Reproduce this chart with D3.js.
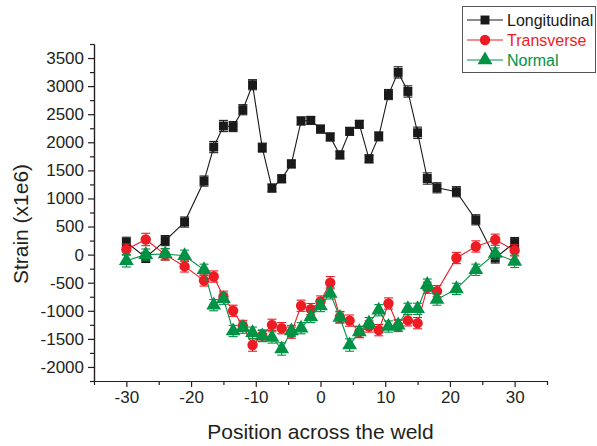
<!DOCTYPE html>
<html>
<head>
<meta charset="utf-8">
<script src="https://cdn.jsdelivr.net/npm/d3@7"></script>
<style>
  body { margin: 0; background: #fff; }
  svg { font-family: "Liberation Sans", Arial, sans-serif; }
  .axis path, .axis line { stroke: #231f20; stroke-width: 1.2; }
  .axis text { fill: #231f20; font-size: 17px; }
</style>
</head>
<body>
<svg id="chart"></svg>
<script>
// position across the weld
const positions = [-30, -27, -24, -21, -18, -16.5, -15, -13.5, -12, -10.5, -9, -7.5, -6, -4.5, -3, -1.5,
  0, 1.5, 3, 4.5, 6, 7.5, 9, 10.5, 12, 13.5, 15, 16.5, 18, 21, 24, 27, 30];

const longitudinal = [220, -50, 250, 580, 1310, 1915, 2290, 2280, 2580, 3025, 1905, 1185, 1350, 1615, 2380, 2390,
  2235, 2095, 1775, 2195, 2320, 1705, 2105, 2850, 3245, 2905, 2170, 1355, 1190, 1120, 620, -60, 215];
const transverse = [90, 270, 0, -210, -460, -390, -750, -1000, -1270, -1610, -1440, -1250, -1310, -1390, -910, -970,
  -835, -500, -1110, -1175, -1380, -1280, -1345, -870, -1270, -1170, -1220, -590, -650, -60, 145, 265, 75];
const normal = [-110, 0, 10, -20, -270, -900, -785, -1360, -1300, -1390, -1450, -1475, -1680, -1360, -1310, -1110,
  -915, -690, -1120, -1610, -1375, -1220, -990, -1280, -1255, -965, -965, -535, -800, -610, -270, 20, -120];

const errLong = [90, 90, 90, 90, 90, 100, 100, 90, 90, 90, 80, 70, 70, 70, 70, 70,
  70, 70, 70, 70, 70, 70, 80, 90, 100, 100, 100, 100, 90, 90, 90, 90, 90];
const errTrans = [100, 110, 100, 100, 100, 100, 100, 100, 100, 110, 100, 100, 100, 100, 100, 100,
  100, 110, 100, 100, 100, 100, 100, 100, 100, 100, 100, 100, 100, 100, 100, 100, 100];
const errNorm = [110, 100, 100, 100, 100, 100, 100, 100, 100, 100, 100, 100, 110, 100, 100, 100,
  100, 100, 100, 110, 100, 100, 100, 100, 100, 100, 100, 100, 100, 100, 100, 100, 110];

const seriesNames = ['Longitudinal', 'Transverse', 'Normal'];
const xTicks = [-30, -20, -10, 0, 10, 20, 30];
const yTicks = [-2000, -1500, -1000, -500, 0, 500, 1000, 1500, 2000, 2500, 3000, 3500];

const W = 597, H = 446;
const margin = { top: 44, right: 50, bottom: 65, left: 94 };

const svg = d3.select('#chart').attr('width', W).attr('height', H);

const x = d3.scaleLinear().domain([-35, 35]).range([margin.left, W - margin.right]);
const y = d3.scaleLinear().domain([-2250, 3750]).range([H - margin.bottom, margin.top]);

// plain hyphen for negatives, like the original
const fmt = d => String(d);

// axes: major + minor ticks
const xMinor = d3.range(-35, 36, 5).filter(v => !xTicks.includes(v));
const yMinor = d3.range(-2250, 3751, 250).filter(v => !yTicks.includes(v));

svg.append('g')
  .attr('class', 'axis')
  .attr('transform', 'translate(0,' + (H - margin.bottom) + ')')
  .call(d3.axisBottom(x).tickValues(xMinor).tickSize(4).tickSizeOuter(0).tickFormat(''));
svg.append('g')
  .attr('class', 'axis')
  .attr('transform', 'translate(0,' + (H - margin.bottom) + ')')
  .call(d3.axisBottom(x).tickValues(xTicks).tickSize(6).tickSizeOuter(0).tickPadding(4).tickFormat(fmt));

svg.append('g')
  .attr('class', 'axis')
  .attr('transform', 'translate(' + margin.left + ',0)')
  .call(d3.axisLeft(y).tickValues(yMinor).tickSize(4).tickSizeOuter(0).tickFormat(''));
svg.append('g')
  .attr('class', 'axis')
  .attr('transform', 'translate(' + margin.left + ',0)')
  .call(d3.axisLeft(y).tickValues(yTicks).tickSize(6).tickSizeOuter(0).tickPadding(4).tickFormat(fmt));

// axis titles
svg.append('text')
  .attr('x', (x(-35) + x(35)) / 2).attr('y', 439)
  .attr('text-anchor', 'middle')
  .attr('font-size', 21).attr('fill', '#231f20')
  .text('Position across the weld');

svg.append('text')
  .attr('transform', 'translate(28,' + 224 + ') rotate(-90)')
  .attr('text-anchor', 'middle')
  .attr('font-size', 21).attr('fill', '#231f20')
  .text('Strain (x1e6)');

// series
const colors = ['#1a1a1a', '#ed1c24', '#009245'];
const values = [longitudinal, transverse, normal];
const errors = [errLong, errTrans, errNorm];

const line = d3.line().x(d => x(d.x)).y(d => y(d.y));

const symbols = [d3.symbolSquare, d3.symbolCircle, d3.symbolTriangle];
const symSizes = [80, 85, 95];

// draw back to front: longitudinal, transverse, normal
values.forEach((vals, s) => {
  const pts = positions.map((p, i) => ({ x: p, y: vals[i], e: errors[s][i] }));
  const g = svg.append('g').attr('class', 'series');

  g.append('path')
    .datum(pts)
    .attr('fill', 'none')
    .attr('stroke', colors[s])
    .attr('stroke-width', 1.1)
    .attr('d', line);

  const eb = g.selectAll('.err').data(pts).enter().append('g').attr('class', 'err')
    .attr('stroke', colors[s]).attr('stroke-width', 1.1);
  eb.append('line')
    .attr('x1', d => x(d.x)).attr('x2', d => x(d.x))
    .attr('y1', d => y(d.y - d.e)).attr('y2', d => y(d.y + d.e));
  eb.append('line')
    .attr('x1', d => x(d.x) - 4.5).attr('x2', d => x(d.x) + 4.5)
    .attr('y1', d => y(d.y + d.e)).attr('y2', d => y(d.y + d.e));
  eb.append('line')
    .attr('x1', d => x(d.x) - 4.5).attr('x2', d => x(d.x) + 4.5)
    .attr('y1', d => y(d.y - d.e)).attr('y2', d => y(d.y - d.e));

  g.selectAll('.pt').data(pts).enter().append('path')
    .attr('class', 'pt')
    .attr('transform', d => 'translate(' + x(d.x) + ',' + y(d.y) + ')')
    .attr('d', d3.symbol().type(symbols[s]).size(symSizes[s]))
    .attr('fill', colors[s]);
});

// legend
const legend = svg.append('g');
legend.append('rect')
  .attr('x', 462.5).attr('y', 6.5).attr('width', 133).attr('height', 66)
  .attr('fill', '#fff').attr('stroke', '#555').attr('stroke-width', 1);

seriesNames.forEach((name, i) => {
  const ly = 20 + i * 20;
  legend.append('line')
    .attr('x1', 467).attr('x2', 503).attr('y1', ly).attr('y2', ly)
    .attr('stroke', colors[i]).attr('stroke-width', 1.1);
  legend.append('path')
    .attr('transform', 'translate(485,' + ly + ')')
    .attr('d', d3.symbol().type(symbols[i]).size(symSizes[i]))
    .attr('fill', colors[i]);
  legend.append('text')
    .attr('x', 507).attr('y', ly + 6)
    .attr('font-size', 16)
    .attr('fill', colors[i])
    .text(name);
});
</script>
</body>
</html>
